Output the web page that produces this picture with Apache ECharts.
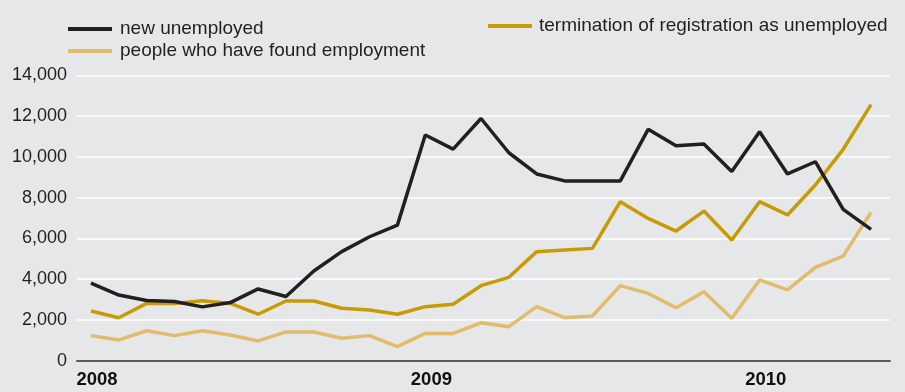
<!DOCTYPE html>
<html>
<head>
<meta charset="utf-8">
<script src="https://cdn.jsdelivr.net/npm/echarts@6/dist/echarts.min.js"></script>
<style>
html,body{margin:0;padding:0;background:#e6e7e8;}
#c{width:905px;height:392px;}
</style>
</head>
<body>
<div id="c"></div>
<script>
// Monthly data, Jan 2008 .. May 2010
var months = 29;
var yearLabels = ['2008', '2009', '2010'];
var yearPositions = [0.22, 12.22, 24.22];
var yTicks = [0, 2000, 4000, 6000, 8000, 10000, 12000, 14000];

var newUnemployed = [3800, 3220, 2950, 2900, 2640, 2850, 3520, 3150, 4400, 5350, 6080, 6650,
  11070, 10380, 11880, 10200, 9160, 8820, 8820, 8820, 11350, 10540, 10630, 9280, 11230, 9160,
  9760, 7420, 6440];
var termination = [2440, 2110, 2810, 2810, 2940, 2810, 2280, 2930, 2930, 2570, 2490, 2280,
  2650, 2770, 3680, 4090, 5350, 5430, 5510, 7800, 6980, 6360, 7340, 5920, 7800, 7150,
  8620, 10370, 12560];
var foundEmployment = [1230, 1020, 1470, 1230, 1470, 1260, 970, 1410, 1410, 1100, 1230, 690,
  1340, 1340, 1860, 1670, 2650, 2110, 2190, 3680, 3300, 2600, 3380, 2080, 3960, 3470,
  4580, 5130, 7280];

function pairs(arr) { return arr.map(function (v, i) { return [i, v]; }); }

var chart = echarts.init(document.getElementById('c'), null, {renderer: 'canvas'});
var font = 'Liberation Sans, Arial, Helvetica, sans-serif';
chart.setOption({
  backgroundColor: '#e6e7e8',
  animation: false,
  textStyle: {fontFamily: font},
  grid: {left: 77, right: 15, top: 75.3, bottom: 31.3, containLabel: false},
  legend: [
    {
      data: ['new unemployed', 'people who have found employment'],
      orient: 'vertical', left: 68, top: 19.5, padding: 0, itemGap: 3,
      icon: 'rect', itemWidth: 44, itemHeight: 4,
      textStyle: {fontSize: 19, color: '#231f20', fontFamily: font, lineHeight: 18, padding: [0, 0, 0, 3]}
    },
    {
      data: ['termination of registration as unemployed'],
      left: 488, top: 16.5, padding: 0,
      icon: 'rect', itemWidth: 44, itemHeight: 4,
      textStyle: {fontSize: 19, color: '#231f20', fontFamily: font, lineHeight: 18, padding: [0, 0, 0, 2]}
    }
  ],
  xAxis: {
    type: 'value', min: -0.5, max: 28.68,
    axisLine: {show: true, onZero: false, lineStyle: {color: '#5a5a5c', width: 2}},
    axisTick: {show: false},
    splitLine: {show: false},
    axisLabel: {
      customValues: yearPositions,
      formatter: function (v) {
        for (var k = 0; k < yearPositions.length; k++) { if (Math.abs(yearPositions[k] - v) < 0.01) return yearLabels[k]; }
        return '';
      },
      fontSize: 18.5, fontWeight: 'bold', color: '#111', margin: 10, fontFamily: font
    }
  },
  yAxis: {
    type: 'value', min: 0, max: 14000, interval: 2000,
    axisLine: {show: false}, axisTick: {show: false},
    splitLine: {show: true, lineStyle: {color: '#ffffff', width: 1.5}},
    axisLabel: {
      fontSize: 18, color: '#231f20', margin: 10, fontFamily: font,
      formatter: function (v) { return yTicks.indexOf(v) >= 0 ? v.toLocaleString('en-US') : ''; }
    }
  },
  series: [
    {name: 'people who have found employment', type: 'line', data: pairs(foundEmployment),
      symbol: 'none', lineStyle: {color: '#e0bc6c', width: 3.5}, itemStyle: {color: '#e0bc6c'}, z: 2},
    {name: 'termination of registration as unemployed', type: 'line', data: pairs(termination),
      symbol: 'none', lineStyle: {color: '#c89a06', width: 3.5}, itemStyle: {color: '#c89a06'}, z: 3},
    {name: 'new unemployed', type: 'line', data: pairs(newUnemployed),
      symbol: 'none', lineStyle: {color: '#231f20', width: 3.5}, itemStyle: {color: '#231f20'}, z: 4}
  ]
});
</script>
</body>
</html>
